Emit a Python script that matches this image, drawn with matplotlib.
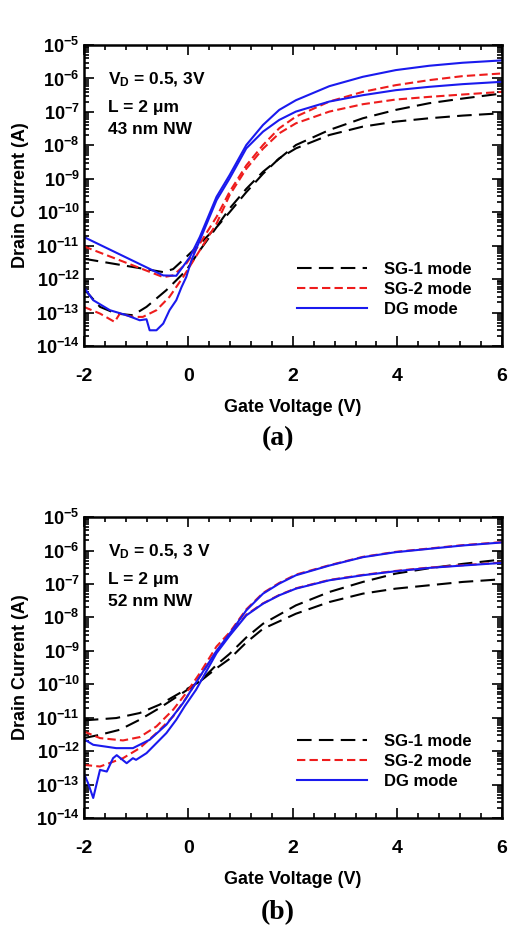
import matplotlib
matplotlib.use("Agg")
import matplotlib.pyplot as plt
import matplotlib.ticker as mticker
import numpy as np

plt.rcParams['font.family'] = ['Liberation Sans', 'DejaVu Sans']
plt.rcParams['font.weight'] = 'bold'
plt.rcParams['axes.unicode_minus'] = False
plt.rcParams['mathtext.fontset'] = 'custom'
plt.rcParams['mathtext.rm'] = 'Liberation Sans:bold'
plt.rcParams['mathtext.bf'] = 'Liberation Sans:bold'
plt.rcParams['mathtext.it'] = 'Liberation Sans:bold'

# ---- panel (a): 43 nm NW, log10 of drain current ----
a_sg1_hi_v = [-2, -0.48, -0.29, -0.04, 0.22, 0.54, 0.79, 1.11, 1.43, 2.06, 2.70, 3.34, 3.97, 4.61, 5.25, 6]
a_sg1_hi = [-11.39, -11.79, -11.70, -11.34, -10.95, -10.44, -9.89, -9.3, -8.79, -7.99, -7.54, -7.19, -6.94, -6.74, -6.6, -6.45]
a_sg1_lo_v = [-2, -1.69, -1.38, -1.06, -0.8, -0.42, -0.04, 0.22, 0.54, 0.79, 1.11, 1.43, 1.74, 2.06, 2.70, 3.34, 3.97, 4.61, 5.25, 6]
a_sg1_lo = [-12.29, -12.83, -13.03, -13.08, -12.83, -12.33, -11.74, -11.14, -10.45, -10.0, -9.4, -8.85, -8.39, -8.09, -7.69, -7.44, -7.29, -7.19, -7.11, -7.04]

a_sg2_hi_v = [-2, -0.48, -0.29, -0.04, 0.22, 0.54, 0.79, 1.11, 1.43, 1.74, 2.06, 2.70, 3.34, 3.97, 4.61, 5.25, 6]
a_sg2_hi = [-11.02, -11.94, -11.89, -11.54, -10.94, -10.14, -9.39, -8.6, -7.99, -7.49, -7.14, -6.69, -6.4, -6.2, -6.05, -5.93, -5.85]
a_sg2_lo_v = [-2, -1.69, -1.41, -1.31, -1.06, -0.87, -0.61, -0.36, -0.1, 0.22, 0.54, 0.79, 1.11, 1.43, 1.74, 2.06, 2.70, 3.34, 3.97, 4.61, 5.25, 6]
a_sg2_lo = [-12.83, -13.03, -13.28, -13.03, -13.13, -13.13, -12.93, -12.53, -11.94, -11.14, -10.34, -9.49, -8.7, -8.1, -7.64, -7.34, -6.99, -6.77, -6.63, -6.55, -6.48, -6.4]

a_dg_hi_v = [-2, -0.48, -0.23, 0.03, 0.22, 0.54, 0.79, 1.11, 1.43, 1.74, 2.06, 2.70, 3.34, 3.97, 4.61, 5.25, 6]
a_dg_hi = [-10.74, -11.89, -11.9, -11.34, -10.74, -9.54, -8.89, -7.99, -7.39, -6.94, -6.65, -6.23, -5.95, -5.75, -5.62, -5.53, -5.46]
a_dg_lo_v = [-2, -1.82, -1.5, -1.18, -0.93, -0.8, -0.74, -0.61, -0.48, -0.36, -0.23, -0.13, -0.04, 0.06, 0.22, 0.54, 0.79, 1.11, 1.43, 1.74, 2.06, 2.70, 3.34, 3.97, 4.61, 5.25, 6]
a_dg_lo = [-12.24, -12.63, -12.93, -13.08, -13.23, -13.2, -13.53, -13.53, -13.33, -12.93, -12.63, -12.24, -11.94, -11.44, -10.84, -9.64, -8.99, -8.09, -7.59, -7.24, -6.99, -6.69, -6.5, -6.35, -6.25, -6.17, -6.1]

# ---- panel (b): 52 nm NW ----
b_sg1_hi_v = [-2, -1.38, -0.93, -0.55, -0.16, 0.22, 0.54, 0.79, 1.11, 1.43, 2.06, 2.70, 3.34, 3.97, 4.61, 5.25, 6]
b_sg1_hi = [-11.08, -11.01, -10.86, -10.61, -10.26, -9.92, -9.42, -9.09, -8.6, -8.19, -7.64, -7.24, -6.94, -6.69, -6.53, -6.4, -6.27]
b_sg1_lo_v = [-2, -1.69, -1.31, -0.93, -0.55, -0.16, 0.22, 0.54, 0.79, 1.11, 1.43, 2.06, 2.70, 3.34, 3.97, 4.61, 5.25, 6]
b_sg1_lo = [-11.61, -11.51, -11.36, -11.06, -10.71, -10.31, -9.92, -9.52, -9.24, -8.75, -8.34, -7.89, -7.54, -7.29, -7.14, -7.04, -6.94, -6.86]

b_sg2_hi_v = [-2, -1.69, -1.25, -0.93, -0.61, -0.29, -0.04, 0.22, 0.54, 0.79, 1.11, 1.43, 1.74, 2.06, 2.70, 3.34, 3.97, 4.61, 5.25, 6]
b_sg2_hi = [-11.41, -11.61, -11.68, -11.58, -11.26, -10.76, -10.26, -9.67, -8.87, -8.45, -7.76, -7.27, -6.97, -6.72, -6.44, -6.19, -6.04, -5.94, -5.84, -5.75]
b_sg2_lo_v = [-2, -1.69, -1.25, -0.93, -0.61, -0.29, -0.04, 0.22, 0.54, 0.79, 1.11, 1.43, 1.74, 2.06, 2.70, 3.34, 3.97, 4.61, 5.25, 6]
b_sg2_lo = [-12.41, -12.46, -12.21, -11.91, -11.46, -10.96, -10.41, -9.77, -9.02, -8.52, -7.92, -7.58, -7.33, -7.13, -6.88, -6.73, -6.61, -6.51, -6.44, -6.36]

b_dg_hi_v = [-2, -1.82, -1.38, -1.06, -0.74, -0.42, -0.1, 0.22, 0.54, 0.79, 1.11, 1.43, 1.74, 2.06, 2.70, 3.34, 3.97, 4.61, 5.25, 6]
b_dg_hi = [-11.64, -11.81, -11.91, -11.91, -11.66, -11.21, -10.56, -9.77, -9.0, -8.49, -7.79, -7.29, -6.99, -6.74, -6.45, -6.2, -6.05, -5.95, -5.85, -5.76]
b_dg_lo_v = [-2, -1.92, -1.82, -1.69, -1.56, -1.44, -1.37, -1.18, -1.06, -1.0, -0.8, -0.61, -0.42, -0.23, -0.07, 0.15, 0.54, 0.79, 1.11, 1.43, 1.74, 2.06, 2.70, 3.34, 3.97, 4.61, 5.25, 6]
b_dg_lo = [-12.66, -12.95, -13.4, -12.56, -12.61, -12.21, -12.12, -12.36, -12.21, -12.26, -12.06, -11.76, -11.46, -11.06, -10.66, -10.16, -9.07, -8.55, -7.94, -7.59, -7.34, -7.14, -6.89, -6.74, -6.62, -6.52, -6.45, -6.37]

labels = ["SG-1 mode", "SG-2 mode", "DG mode"]
notes_a = ["V$_{\\mathregular{D}}$ = 0.5, 3V", "L = 2 \u03bcm", "43 nm NW"]
notes_b = ["V$_{\\mathregular{D}}$ = 0.5, 3 V", "L = 2 \u03bcm", "52 nm NW"]

black_ls = (0, (7, 3.5))
red_ls = (0, (4, 2))


def decade_fmt(v, pos):
    e = int(round(np.log10(v)))
    return r"10$^{\mathregular{%d}}$" % e


def panel(ax, curves, notes):
    (s1h, s1hv), (s1l, s1lv), (s2h, s2hv), (s2l, s2lv), (dh, dhv), (dl, dlv) = curves
    ax.plot(s1hv, 10.0 ** np.array(s1h), color="black", lw=1.5, ls=black_ls, label=labels[0])
    ax.plot(s1lv, 10.0 ** np.array(s1l), color="black", lw=1.5, ls=black_ls)
    ax.plot(s2hv, 10.0 ** np.array(s2h), color="#ee1c1c", lw=1.5, ls=red_ls, label=labels[1])
    ax.plot(s2lv, 10.0 ** np.array(s2l), color="#ee1c1c", lw=1.5, ls=red_ls)
    ax.plot(dhv, 10.0 ** np.array(dh), color="#1a1aee", lw=1.5, label=labels[2])
    ax.plot(dlv, 10.0 ** np.array(dl), color="#1a1aee", lw=1.5)

    ax.set_yscale("log")
    ax.set_xlim(-2, 6)
    ax.set_ylim(1e-14, 1e-5)
    ax.set_xticks([-2, 0, 2, 4, 6])
    ax.xaxis.set_minor_locator(mticker.MultipleLocator(0.4))
    ax.yaxis.set_major_locator(mticker.LogLocator(base=10, numticks=20))
    ax.yaxis.set_minor_locator(mticker.LogLocator(base=10, subs=np.arange(2, 10), numticks=20))
    ax.yaxis.set_minor_formatter(mticker.NullFormatter())
    ax.yaxis.set_major_formatter(mticker.FuncFormatter(decade_fmt))
    ax.tick_params(which="both", direction="in", top=True, right=True, width=1.2)
    ax.tick_params(which="major", length=7)
    ax.tick_params(which="minor", length=3.5)
    ax.tick_params(axis="x", which="major", pad=16, labelsize=14)
    ax.tick_params(axis="y", which="major", pad=3, labelsize=13)
    for s in ax.spines.values():
        s.set_linewidth(1.8)
    for lab in ax.get_xticklabels() + ax.get_yticklabels():
        lab.set_fontweight("bold")

    ax.set_xlabel("Gate Voltage (V)", fontsize=13, fontweight="bold", labelpad=10)
    ax.set_ylabel("Drain Current (A)", fontsize=13, fontweight="bold", labelpad=5)

    ax.text(0.057, 0.885, notes[0], transform=ax.transAxes, fontsize=12.5, fontweight="bold", va="center")
    ax.text(0.057, 0.793, notes[1], transform=ax.transAxes, fontsize=12.5, fontweight="bold", va="center")
    ax.text(0.057, 0.72, notes[2], transform=ax.transAxes, fontsize=12.5, fontweight="bold", va="center")

    ax.legend(loc="lower left", bbox_to_anchor=(0.51, 0.098), frameon=False,
              borderpad=0, borderaxespad=0,
              handlelength=4.2, handletextpad=1.0, labelspacing=0.28,
              prop={"weight": "bold", "size": 12})


fig = plt.figure(figsize=(5.11, 9.42), dpi=100)
ax1 = fig.add_axes([0.164, 0.6327, 0.818, 0.3195])
ax2 = fig.add_axes([0.164, 0.1316, 0.818, 0.3195])

panel(ax1, [(a_sg1_hi, a_sg1_hi_v), (a_sg1_lo, a_sg1_lo_v), (a_sg2_hi, a_sg2_hi_v),
            (a_sg2_lo, a_sg2_lo_v), (a_dg_hi, a_dg_hi_v), (a_dg_lo, a_dg_lo_v)], notes_a)
panel(ax2, [(b_sg1_hi, b_sg1_hi_v), (b_sg1_lo, b_sg1_lo_v), (b_sg2_hi, b_sg2_hi_v),
            (b_sg2_lo, b_sg2_lo_v), (b_dg_hi, b_dg_hi_v), (b_dg_lo, b_dg_lo_v)], notes_b)

fig.text(278 / 511, 1 - 439 / 942, "(a)", fontsize=20, fontweight="bold",
         family="Liberation Serif", ha="center", va="center")
fig.text(278 / 511, 1 - 913 / 942, "(b)", fontsize=20, fontweight="bold",
         family="Liberation Serif", ha="center", va="center")

fig.savefig("out.png", dpi=100)
